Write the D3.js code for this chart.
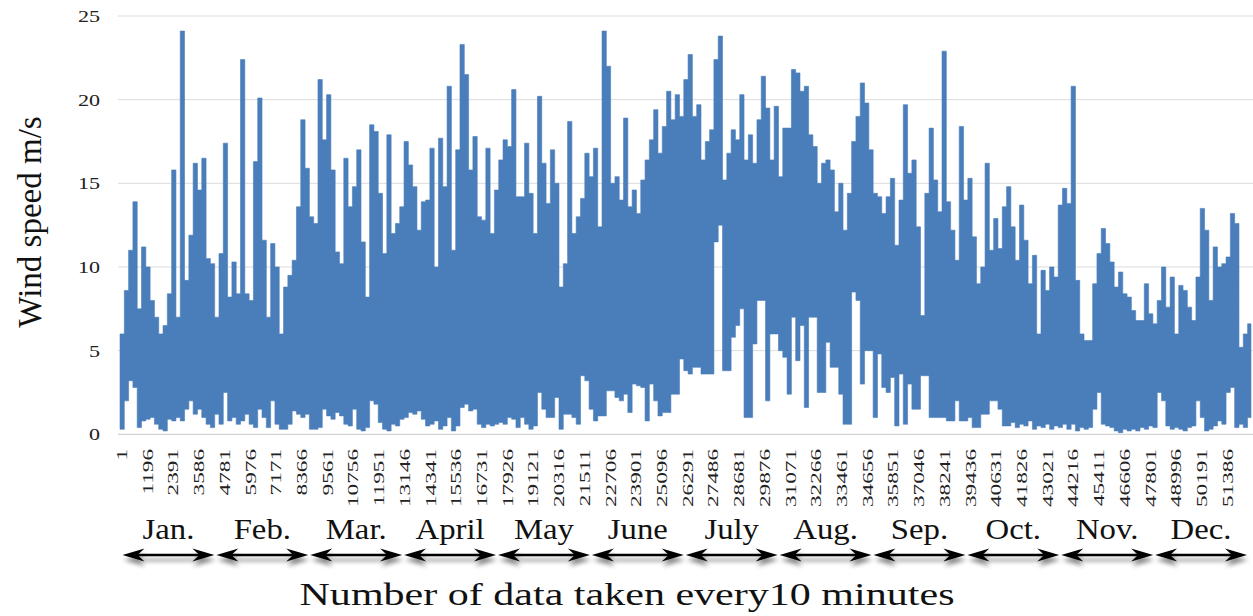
<!DOCTYPE html>
<html>
<head>
<meta charset="utf-8">
<script src="https://cdn.jsdelivr.net/npm/d3@7"></script>
<style>
  body { margin: 0; background: #fff; }
  svg { display: block; }
</style>
</head>
<body>
<div id="chart"></div>
<script>
// 10-minute wind speed record, one year. Values read per block of 200 samples:
// highest and lowest speed seen in each block (m/s).
const SAMPLES = 52560
const BIN = 200

const binHigh = [
  6.0, 8.6, 11.0, 13.9, 7.5, 11.2, 10.0, 8.0, 7.0, 6.0,
  6.5, 8.4, 15.8, 7.0, 24.1, 9.2, 11.9, 16.2, 14.6, 16.5,
  10.5, 10.2, 7.0, 10.8, 17.4, 8.2, 10.3, 8.4, 22.4, 8.4,
  8.0, 16.3, 20.1, 11.6, 7.0, 11.4, 10.0, 6.0, 8.8, 9.5,
  10.4, 13.6, 18.8, 15.9, 13.0, 12.6, 21.2, 17.6, 20.3, 15.8,
  10.9, 10.2, 16.5, 13.6, 14.8, 17.0, 11.5, 8.2, 18.5, 18.1,
  14.4, 10.8, 17.9, 12.0, 12.6, 13.6, 17.5, 16.1, 14.8, 12.2,
  13.9, 14.0, 17.1, 10.0, 17.7, 14.8, 20.8, 11.0, 17.0, 23.3,
  21.5, 15.8, 17.8, 13.0, 12.8, 17.1, 12.0, 14.6, 16.4, 17.6,
  17.2, 20.6, 14.2, 14.2, 17.4, 14.4, 12.0, 20.2, 16.2, 13.8,
  17.0, 15.0, 8.8, 10.2, 18.7, 12.0, 13.0, 14.1, 16.8, 15.4,
  17.1, 12.4, 24.1, 22.0, 15.0, 15.4, 14.0, 18.9, 13.6, 14.6,
  13.2, 15.2, 16.4, 17.6, 19.4, 16.8, 18.4, 20.5, 18.8, 20.3,
  19.0, 21.2, 22.7, 19.0, 19.7, 16.4, 17.5, 18.2, 22.4, 23.8,
  15.2, 16.8, 18.2, 17.6, 20.3, 16.4, 17.9, 16.2, 18.8, 21.4,
  19.5, 16.4, 19.6, 15.4, 18.3, 18.3, 21.8, 21.6, 20.5, 20.8,
  17.9, 17.2, 15.0, 16.2, 16.4, 15.8, 13.3, 15.0, 12.2, 14.4,
  17.5, 19.0, 21.0, 19.8, 17.0, 14.4, 14.2, 13.2, 14.2, 15.3,
  11.3, 14.0, 19.7, 15.6, 16.4, 12.4, 7.1, 14.4, 18.3, 15.2,
  13.3, 22.9, 13.9, 12.2, 10.4, 18.4, 14.0, 15.3, 11.8, 9.0,
  10.0, 16.2, 11.0, 12.9, 11.1, 13.6, 14.8, 12.4, 10.4, 13.7,
  11.6, 9.0, 10.7, 6.0, 9.8, 8.6, 10.0, 9.4, 13.7, 14.7,
  13.8, 20.8, 9.2, 6.0, 5.6, 5.6, 9.0, 10.8, 12.3, 11.4,
  10.3, 8.8, 9.7, 8.4, 8.2, 7.4, 6.8, 6.8, 9.0, 7.2,
  6.6, 8.0, 10.0, 7.6, 9.4, 6.0, 8.9, 8.6, 7.6, 6.8,
  9.4, 13.5, 12.2, 8.0, 11.2, 10.0, 10.2, 10.6, 13.2, 12.6,
  5.2, 6.0, 6.6
]

const binLow = [
  0.3, 2.0, 3.2, 2.8, 0.4, 0.8, 0.9, 1.0, 0.6, 0.3,
  0.2, 0.9, 0.8, 1.0, 0.8, 1.5, 2.0, 1.2, 1.5, 1.0,
  0.6, 0.4, 1.2, 0.6, 2.5, 0.8, 1.0, 0.6, 0.8, 1.2,
  0.6, 0.4, 1.5, 1.0, 0.4, 2.0, 0.6, 0.3, 0.3, 0.6,
  1.4, 1.2, 1.0, 1.2, 0.3, 0.3, 0.4, 1.5, 1.1, 0.9,
  1.3, 1.1, 0.6, 0.5, 1.5, 0.3, 0.2, 0.4, 2.0, 1.8,
  0.7, 0.3, 0.2, 0.6, 0.5, 0.9, 1.0, 1.3, 1.2, 1.4,
  0.9, 0.5, 0.6, 0.8, 0.3, 0.5, 1.0, 0.2, 0.5, 1.6,
  1.8, 1.4, 1.5, 0.6, 0.4, 0.6, 0.5, 0.6, 0.7, 0.6,
  1.0, 0.9, 0.4, 1.0, 0.6, 0.3, 0.5, 2.5, 1.5, 1.0,
  1.0, 2.2, 0.3, 1.2, 1.2, 1.0, 0.6, 3.5, 3.2, 1.5,
  0.8, 1.1, 1.1, 2.6, 2.6, 2.2, 2.0, 2.4, 1.3, 3.0,
  2.9, 2.8, 0.8, 3.0, 2.0, 1.1, 1.3, 1.3, 2.4, 2.4,
  4.5, 3.8, 3.6, 4.0, 4.0, 3.6, 3.6, 3.6, 11.5, 12.5,
  3.8, 3.8, 5.8, 6.5, 7.5, 1.0, 1.0, 5.4, 8.0, 8.0,
  2.0, 6.0, 6.0, 5.0, 4.6, 2.4, 7.0, 4.4, 6.5, 1.6,
  7.0, 7.0, 2.5, 2.5, 5.5, 4.0, 4.0, 2.4, 0.6, 0.6,
  8.5, 8.0, 3.0, 5.0, 5.0, 1.0, 4.8, 2.8, 2.5, 3.4,
  0.5, 3.6, 0.6, 3.0, 1.5, 1.5, 3.5, 3.5, 1.0, 1.0,
  1.0, 1.0, 0.8, 0.8, 2.0, 0.8, 0.8, 1.0, 0.4, 0.4,
  1.2, 1.2, 2.0, 2.0, 1.5, 0.5, 0.5, 0.7, 0.4, 0.6,
  0.5, 0.8, 0.3, 0.5, 0.4, 0.6, 0.3, 0.5, 0.4, 0.6,
  0.3, 0.6, 0.2, 0.4, 0.3, 0.4, 1.5, 2.5, 0.6, 0.5,
  0.4, 0.2, 0.1, 0.3, 0.2, 0.3, 0.2, 0.4, 0.3, 0.5,
  0.4, 2.5, 2.0, 0.5, 0.3, 0.4, 0.3, 0.2, 0.4, 0.5,
  2.0, 1.0, 0.2, 0.3, 0.5, 0.8, 0.6, 2.5, 2.8, 0.4,
  0.6, 0.4, 1.0
]

const xTickLabels = [
  1, 1196, 2391, 3586, 4781, 5976, 7171, 8366, 9561, 10756, 11951,
  13146, 14341, 15536, 16731, 17926, 19121, 20316, 21511, 22706,
  23901, 25096, 26291, 27486, 28681, 29876, 31071, 32266, 33461,
  34656, 35851, 37046, 38241, 39436, 40631, 41826, 43021, 44216,
  45411, 46606, 47801, 48996, 50191, 51386
]
const yTicks = [0, 5, 10, 15, 20, 25]
const months = ["Jan.", "Feb.", "Mar.", "April", "May", "June",
  "July", "Aug.", "Sep.", "Oct.", "Nov.", "Dec."]

const width = 1253
const height = 616
const serif = "'Liberation Serif', 'Times New Roman', Times, serif"

const svg = d3.select("#chart").append("svg")
  .attr("width", width)
  .attr("height", height)
  .attr("font-family", serif)

const x = d3.scaleLinear().domain([1, SAMPLES]).range([120, 1251])
const y = d3.scaleLinear().domain([0, 25]).range([434.3, 16])

// drop shadow for the month arrows
const defs = svg.append("defs")
defs.append("filter")
  .attr("id", "shadow")
  .attr("x", "-5%").attr("y", "-100%")
  .attr("width", "110%").attr("height", "300%")
  .append("feDropShadow")
  .attr("dx", 1).attr("dy", 5)
  .attr("stdDeviation", 2.2)
  .attr("flood-color", "#000")
  .attr("flood-opacity", 0.45)

// gridlines
svg.append("g").selectAll("line")
  .data(yTicks)
  .enter()
  .append("line")
  .attr("x1", 118).attr("x2", 1253)
  .attr("y1", d => y(d)).attr("y2", d => y(d))
  .attr("stroke", d => d === 0 ? "#c8c8c8" : "#dcdcdc")
  .attr("stroke-width", 1)

// y tick labels
svg.append("g").selectAll("text")
  .data(yTicks)
  .enter()
  .append("text")
  .attr("transform", d => `translate(100,${y(d) + 6}) scale(1.3,1)`)
  .attr("text-anchor", "end")
  .attr("font-size", 17)
  .attr("fill", "#222")
  .text(d => d)

// series: min/max envelope of each block of samples
const blocks = binHigh.map((hi, k) => ({ i: 1 + k * BIN, hi: hi, lo: binLow[k] }))
blocks.push({ i: SAMPLES, hi: binHigh[binHigh.length - 1], lo: binLow[binLow.length - 1] })

const area = d3.area()
  .x(d => x(d.i))
  .y0(d => y(d.lo))
  .y1(d => y(d.hi))
  .curve(d3.curveStepAfter)

svg.append("path")
  .datum(blocks)
  .attr("d", area)
  .attr("fill", "#4a7ebb")
  .attr("stroke", "#4a7ebb")
  .attr("stroke-width", 0.6)

// x tick labels, rotated
svg.append("g").selectAll("text")
  .data(xTickLabels)
  .enter()
  .append("text")
  .attr("transform", d => `translate(${x(d) + 7},449) rotate(-90) scale(1.55,1)`)
  .attr("text-anchor", "end")
  .attr("font-size", 15)
  .attr("fill", "#222")
  .text(d => d)

// month labels and double arrows
const band = d3.scaleBand().domain(months).range([121.5, 1248])

svg.append("g").selectAll("text")
  .data(months)
  .enter()
  .append("text")
  .attr("transform", d => `translate(${band(d) + band.bandwidth() / 2},539) scale(1.13,1)`)
  .attr("text-anchor", "middle")
  .attr("font-size", 29)
  .attr("fill", "#111")
  .text(d => d)

const ay = 555
const head = (tip, dir) => {
  const L = 22, W = 6.5, N = 15
  return `M${tip},${ay} L${tip + dir * L},${ay - W} L${tip + dir * N},${ay} L${tip + dir * L},${ay + W} Z`
}

const arrows = svg.append("g").attr("filter", "url(#shadow)")
  .selectAll("g")
  .data(months)
  .enter()
  .append("g")

arrows.append("line")
  .attr("x1", d => band(d) + 10)
  .attr("x2", d => band(d) + band.bandwidth() - 10)
  .attr("y1", ay).attr("y2", ay)
  .attr("stroke", "#000")
  .attr("stroke-width", 2.6)

arrows.append("path")
  .attr("d", d => head(band(d) + 1, 1) + head(band(d) + band.bandwidth() - 1, -1))
  .attr("fill", "#000")

// axis titles
svg.append("text")
  .attr("x", 627)
  .attr("y", 605)
  .attr("text-anchor", "middle")
  .attr("font-size", 32)
  .attr("textLength", 655)
  .attr("lengthAdjust", "spacingAndGlyphs")
  .attr("fill", "#111")
  .text("Number of data taken every10 minutes")

svg.append("text")
  .attr("transform", "translate(41,222) rotate(-90)")
  .attr("text-anchor", "middle")
  .attr("font-size", 33)
  .attr("fill", "#111")
  .text("Wind speed m/s")
</script>
</body>
</html>
